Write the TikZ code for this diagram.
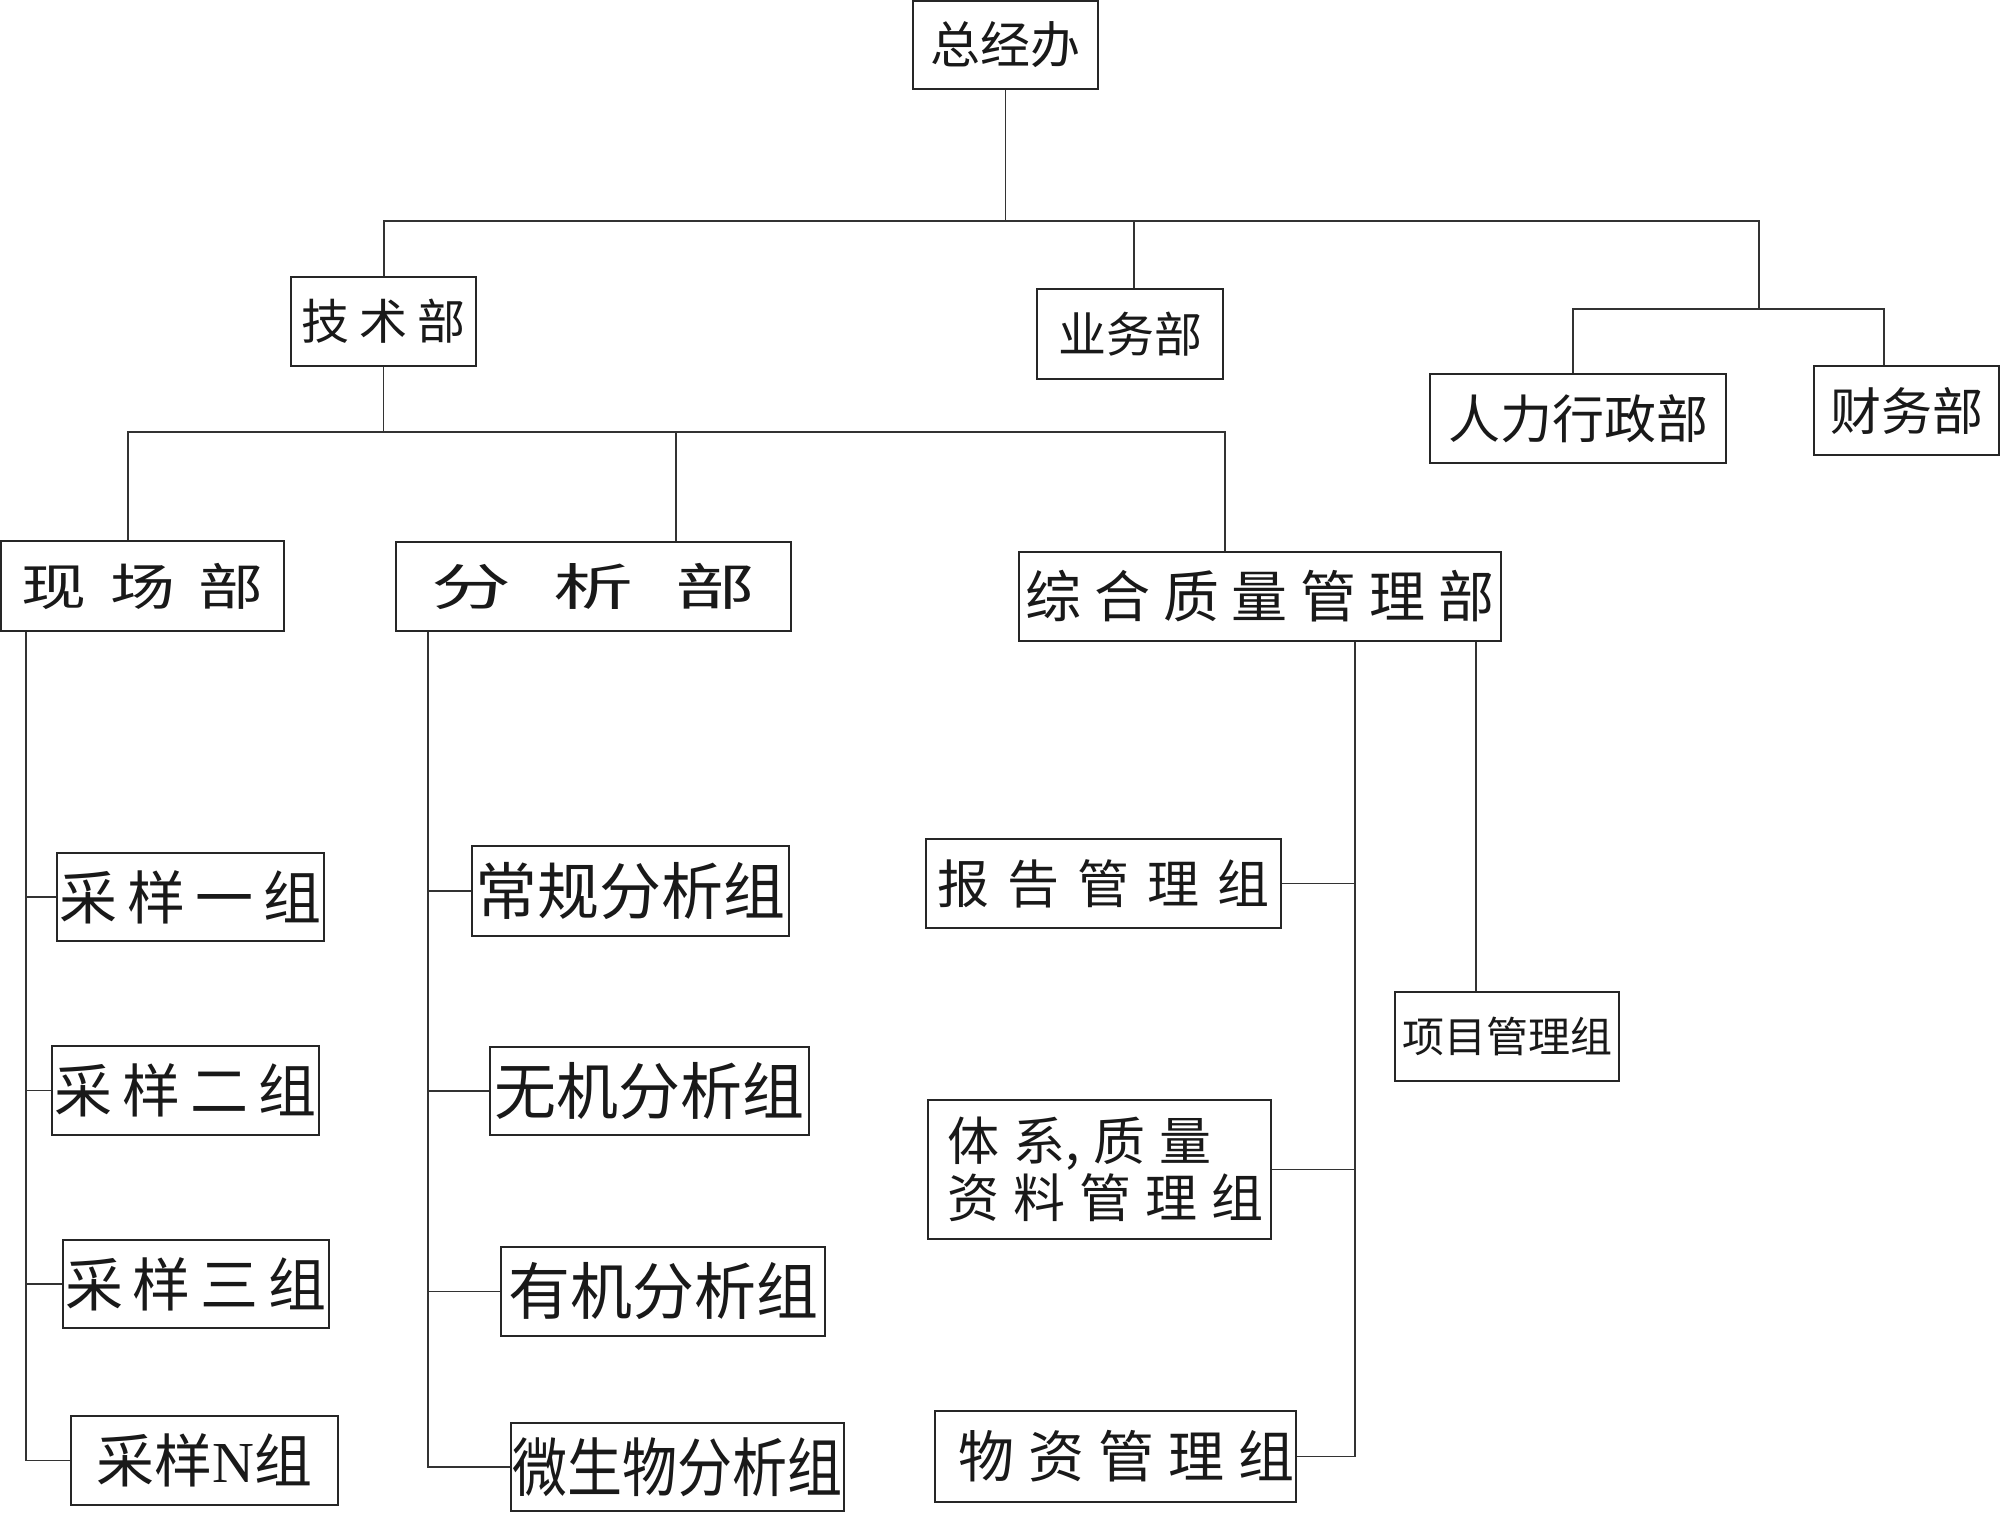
\documentclass[tikz,border=0pt]{standalone}
\usepackage{fontspec}
\usepackage{graphicx}
\newfontfamily\cjk{Noto Sans CJK SC}
\newfontfamily\latserif{Liberation Serif}
\newcommand\fsz[1]{\fontsize{#1}{#1}\selectfont}
\newcommand\gapx[1]{\hspace*{#1}}
\begin{document}
\begin{tikzpicture}[x=0.5pt,y=-0.5pt,
  orgbox/.style={draw=black!85,line width=1pt,inner sep=0pt,font=\cjk,text=black!90},
  conn/.style={draw=black!80,line width=0.9pt}]
\useasboundingbox (0,0) rectangle (2000,1512);
\fill[white] (0,0) rectangle (2000,1512);

% top level
\node[orgbox,minimum width=92.5pt,minimum height=44pt] (zjb) at (1005.5,45) {\fsz{25}总经办};
\node[orgbox,minimum width=92.5pt,minimum height=44.5pt] (jsb) at (383.5,321.5) {\fsz{24}技\gapx{5pt}术\gapx{5pt}部};
\node[orgbox,minimum width=93pt,minimum height=45pt] (ywb) at (1130,334) {\fsz{24}\raisebox{-3pt}{业务部}};
\node[orgbox,minimum width=148pt,minimum height=44.5pt] (rlb) at (1578,418.5) {\fsz{26}人力行政部};
\node[orgbox,minimum width=92.5pt,minimum height=44.5pt] (cwb) at (1906.5,410.5) {\fsz{25.5}财务部};

% second level
\node[orgbox,minimum width=141.5pt,minimum height=45pt] (xcb) at (142.5,586) {\fsz{25}\scalebox{1.3}[1]{现\gapx{9pt}场\gapx{9pt}部}};
\node[orgbox,minimum width=197.5pt,minimum height=44.5pt] (fxb) at (593.5,586.5) {\fsz{25}\scalebox{1.6}[1]{分\gapx{13pt}析\gapx{13pt}部}};
\node[orgbox,minimum width=241pt,minimum height=44.5pt] (zhb) at (1260,596.5) {\fsz{28}综\gapx{6.5pt}合\gapx{6.5pt}质\gapx{6.5pt}量\gapx{6.5pt}管\gapx{6.5pt}理\gapx{6.5pt}部};

% field groups
\node[orgbox,minimum width=133.5pt,minimum height=44pt] (cy1) at (190.5,897) {\fsz{29}采\gapx{5pt}样\gapx{5pt}一\gapx{5pt}组};
\node[orgbox,minimum width=133.5pt,minimum height=44.5pt] (cy2) at (185.5,1090.5) {\fsz{29}采\gapx{5pt}样\gapx{5pt}二\gapx{5pt}组};
\node[orgbox,minimum width=133pt,minimum height=44pt] (cy3) at (196,1284) {\fsz{29}采\gapx{5pt}样\gapx{5pt}三\gapx{5pt}组};
\node[orgbox,minimum width=133.5pt,minimum height=44.5pt] (cyN) at (204.5,1460.5) {\fsz{29}采样{\latserif N}组};

% analysis groups
\node[orgbox,minimum width=158.5pt,minimum height=45pt] (fx1) at (630.5,891) {\fsz{31}常规分析组};
\node[orgbox,minimum width=159.5pt,minimum height=44pt] (fx2) at (649.5,1091) {\fsz{31}无机分析组};
\node[orgbox,minimum width=162pt,minimum height=44.5pt] (fx3) at (663,1291.5) {\fsz{31}有机分析组};
\node[orgbox,minimum width=166.5pt,minimum height=44pt] (fx4) at (677.5,1467) {\fsz{32}\scalebox{0.86}[1]{微生物分析组}};

% quality groups
\node[orgbox,minimum width=177.5pt,minimum height=44.5pt] (zh1) at (1103.5,883.5) {\fsz{26}报\gapx{9pt}告\gapx{9pt}管\gapx{9pt}理\gapx{9pt}组};
\node[orgbox,minimum width=171.5pt,minimum height=69.5pt,align=left,
      font=\cjk\fontsize{26pt}{28.5pt}\selectfont] (zh2) at (1099.5,1169.5)
  {\gapx{6pt}体\gapx{7pt}系,\gapx{7pt}质\gapx{7pt}量\\\gapx{6pt}资\gapx{7pt}料\gapx{7pt}管\gapx{7pt}理\gapx{7pt}组};
\node[orgbox,minimum width=180.5pt,minimum height=45.5pt] (zh3) at (1115.5,1456.5) {\fsz{28}\gapx{11pt}物\gapx{7pt}资\gapx{7pt}管\gapx{7pt}理\gapx{7pt}组};
\node[orgbox,minimum width=112pt,minimum height=44.5pt] (xm) at (1507,1036.5) {\fsz{21}项目管理组};

% connectors: top
\coordinate (bA) at (384,221);
\coordinate (bB) at (1759,221);
\coordinate (bC) at (1759,309);
\coordinate (ywt) at (1134,221);
\coordinate (rL) at (1573,309);
\coordinate (rR) at (1884,309);
\draw[conn] (zjb.south) -- (zjb.south |- bA);
\draw[conn] (bA |- jsb.north) -- (bA) -- (bB) -- (bC);
\draw[conn] (ywt) -- (ywt |- ywb.north);
\draw[conn] (rL |- rlb.north) -- (rL) -- (rR) -- (rR |- cwb.north);

% connectors: technical department
\coordinate (cL) at (128,432);
\coordinate (cM) at (676,432);
\coordinate (cR) at (1225,432);
\draw[conn] (jsb.south) -- (jsb.south |- cL);
\draw[conn] (cL |- xcb.north) -- (cL) -- (cR) -- (cR |- zhb.north);
\draw[conn] (cM) -- (cM |- fxb.north);

% spines
\coordinate (sx) at (26,0);
\coordinate (sf) at (428,0);
\coordinate (sz) at (1355,0);
\coordinate (sp) at (1476,0);
\draw[conn] (sx |- xcb.south) -- (sx |- cyN.west) -- (cyN.west);
\draw[conn] (sx |- cy1.west) -- (cy1.west);
\draw[conn] (sx |- cy2.west) -- (cy2.west);
\draw[conn] (sx |- cy3.west) -- (cy3.west);
\draw[conn] (sf |- fxb.south) -- (sf |- fx4.west) -- (fx4.west);
\draw[conn] (sf |- fx1.west) -- (fx1.west);
\draw[conn] (sf |- fx2.west) -- (fx2.west);
\draw[conn] (sf |- fx3.west) -- (fx3.west);
\draw[conn] (sz |- zhb.south) -- (sz |- zh3.east) -- (zh3.east);
\draw[conn] (sz |- zh1.east) -- (zh1.east);
\draw[conn] (sz |- zh2.east) -- (zh2.east);
\draw[conn] (sp |- zhb.south) -- (sp |- xm.north);
\end{tikzpicture}
\end{document}
